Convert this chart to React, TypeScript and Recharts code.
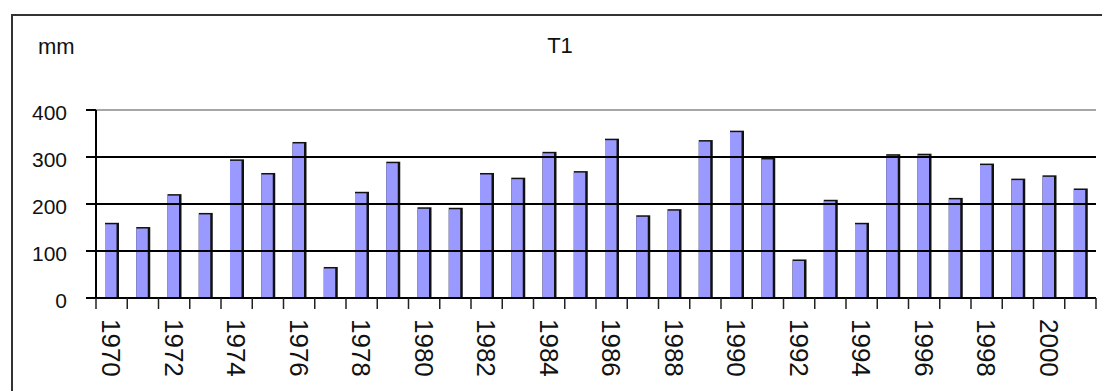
import React from 'react';
import {Bar, BarChart, ReferenceLine, XAxis, YAxis} from 'recharts';

// yearly rainfall, station T1
const years = [
    '1970', '1971', '1972', '1973', '1974', '1975', '1976', '1977',
    '1978', '1979', '1980', '1981', '1982', '1983', '1984', '1985',
    '1986', '1987', '1988', '1989', '1990', '1991', '1992', '1993',
    '1994', '1995', '1996', '1997', '1998', '1999', '2000', '2001'];
const rainfall = [
    160, 151, 221, 181, 295, 266, 332, 66,
    226, 290, 193, 192, 266, 256, 311, 270,
    339, 176, 189, 336, 356, 298, 82, 209,
    160, 306, 307, 213, 286, 254, 261, 233];
const yTicks = [0, 100, 200, 300, 400];
const gridLevels = [100, 200, 300];
const title = 'T1';
const unit = 'mm';

const W = 1102;
const H = 391;
const margin = {top: 110, right: 6, bottom: 0, left: 0};
const Y_AXIS_W = 96;
const X_AXIS_H = 93;
const step = (W - margin.left - margin.right - Y_AXIS_W) / years.length;
const FONT = '"Liberation Sans", Arial, sans-serif';

const data = years.map((y, i) => ({year: y, value: rainfall[i]}));

const BarShape = (props: any) => {
    const {x, y, width, height} = props;
    if (!height || height <= 0) return null;
    return (
        <g>
            <rect x={x} y={y} width={width} height={height} fill="#111"/>
            <rect x={x} y={y + 1.5} width={width - 2.5} height={height - 1.5} fill="#9999ff"/>
        </g>
    );
};

const YTick = ({x, y, payload}: any) => (
    <text x={x} y={y + 10} textAnchor="end" fontSize={21} fontFamily={FONT} fill="#111">
        {payload.value}
    </text>
);

const XTick = ({x, y, index, payload}: any) => {
    const half = step / 2;
    const isLast = index === years.length - 1;
    const showLabel = Number(payload.value) % 2 === 0;
    const tx = x - 9.3;
    const ty = y + 21;
    return (
        <g>
            <line x1={x - half} x2={x - half} y1={y} y2={y + 11} stroke="#222" strokeWidth={1.5}/>
            {isLast && <line x1={x + half} x2={x + half} y1={y} y2={y + 11} stroke="#222" strokeWidth={1.5}/>}
            {showLabel && (
                <text x={tx} y={ty} transform={`rotate(90, ${tx}, ${ty})`} fontSize={26}
                      fontFamily={FONT} fill="#111">
                    {payload.value}
                </text>
            )}
        </g>
    );
};

const App = () => {
    return (
        <div style={{position: 'absolute', left: 0, top: 0, width: W, height: H, overflow: 'hidden', background: '#fff'}}>
            <BarChart width={W} height={H} data={data} margin={margin} barSize={14}>
                <XAxis dataKey="year" height={X_AXIS_H} interval={0} tickLine={false} tickSize={0} tickMargin={0}
                       axisLine={{stroke: '#000', strokeWidth: 2}} tick={<XTick/>}/>
                <YAxis width={Y_AXIS_W} domain={[0, 400]} ticks={yTicks} interval={0} tickSize={10} tickMargin={19}
                       axisLine={{stroke: '#000', strokeWidth: 2}} tickLine={{stroke: '#000', strokeWidth: 2}}
                       tick={<YTick/>}/>
                <YAxis yAxisId="frame" orientation="right" width={0} domain={[0, 400]} tick={false} tickLine={false}
                       axisLine={{stroke: '#888', strokeWidth: 1.5}}/>
                <ReferenceLine y={yTicks[yTicks.length - 1]} stroke="#888" strokeWidth={1.5}/>
                {gridLevels.map(v => (
                    <ReferenceLine key={v} y={v} stroke="#000" strokeWidth={2}/>
                ))}
                <Bar dataKey="value" shape={<BarShape/>} isAnimationActive={false}/>
            </BarChart>
            <svg width={W} height={H} style={{position: 'absolute', left: 0, top: 0, pointerEvents: 'none'}}>
                <polyline points={`12,${H + 5} 12,15 ${W + 5},15`} fill="none" stroke="#333" strokeWidth={2}/>
                <text x={38} y={54} fontSize={22} fontFamily={FONT} fill="#111">{unit}</text>
                <text x={560} y={53} fontSize={22} fontFamily={FONT} fill="#111" textAnchor="middle">{title}</text>
            </svg>
        </div>
    );
};

export default App;
